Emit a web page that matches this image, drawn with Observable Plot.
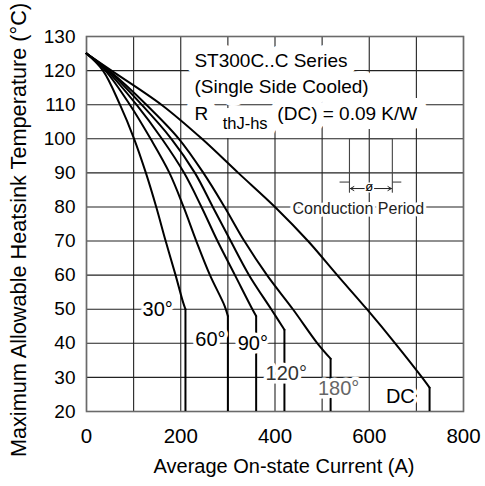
<!DOCTYPE html>
<html><head><meta charset="utf-8">
<script src="https://cdn.jsdelivr.net/npm/d3@7"></script>
<script src="https://cdn.jsdelivr.net/npm/@observablehq/plot@0.6"></script>
<style>body{margin:0;background:#fff;}</style>
</head><body><div id="chart"></div>
<script>
// ---- data ----
const xDomain = [0, 800];
const yDomain = [20, 130];
const xGrid = [0, 100, 200, 300, 400, 500, 600, 700, 800];
const xTicks = [0, 200, 400, 600, 800];
const yTicks = [20, 30, 40, 50, 60, 70, 80, 90, 100, 110, 120, 130];

const seriesNames = ["30°", "60°", "90°", "120°", "180°", "DC"];
const curve30  = [[0,125],[35,120],[71,110],[101,100],[126,90],[148,80],[168,70],[189,60],[205,52],[210,50]];
const curve60  = [[0,125],[40,120],[92,110],[136,100],[176,90],[206,80],[233,70],[262,60],[293,51],[300,48]];
const curve90  = [[0,125],[43,120],[106,110],[160,100],[207,90],[244,80],[278,70],[315,60],[352,50],[360,48]];
const curve120 = [[0,125],[46,120],[117,110],[180,100],[230,90],[268,80],[306,70],[345,60],[392,50],[420,44]];
const curve180 = [[0,125],[48,120],[127,110],[196,100],[248,90],[293,80],[335,70],[383,60],[438,50],[490,40],[518,35.5]];
const curveDC  = [[0,125],[53,120],[159,110],[245,100],[322,90],[400,80],[470,70],[532,60],[595,50],[655,40],[712,30],[728,27]];
const curves = [curve30, curve60, curve90, curve120, curve180, curveDC];

// curve labels (text, x, y, colour)
const labelText = ["30°", "60°", "90°", "120°", "180°", "DC"];
const labelX = [151, 263, 353, 424, 535, 666];
const labelY = [50, 41.2, 40, 31.2, 26.8, 24.3];
const labelColor = ["#000", "#000", "#000", "#333", "#666", "#000"];

// title block
const titleText = ["ST300C..C Series", "(Single Side Cooled)", "R", "(DC) = 0.09 K/W"];
const titleX = [229, 229, 229, 405];
const titleY = [122.7, 115.3, 107.4, 107.4];
const subText = ["thJ-hs"];
const subX = [289];
const subY = [104.3];

// conduction period sketch
const pulseX = [558, 558, 649, 649];
const pulseY = [84.3, 100, 100, 84.3];
const baseSegX1 = [537, 649];
const baseSegX2 = [558, 668];
const baseSegY = [87.3, 87.3];
const arrowX1 = [590, 611];
const arrowX2 = [560, 647];
const arrowY = [85.4, 85.4];
const phiLabel = ["ø"];
const phiX = [600];
const phiY = [86];
const periodLabel = ["Conduction Period"];
const periodX = [437];
const periodY = [79.3];

const xLabel = "Average On-state Current (A)";
const yLabel = "Maximum Allowable Heatsink Temperature (°C)";

// ---- build tables ----
const lineData = curves.flatMap((c, i) => c.map(([x, y]) => ({x, y, s: seriesNames[i]})));
const endData = curves.map((c, i) => ({x: c[c.length - 1][0], y: c[c.length - 1][1], s: seriesNames[i]}));
const labels = labelText.map((t, i) => ({t, x: labelX[i], y: labelY[i], c: labelColor[i]}));
const titles = titleText.map((t, i) => ({t, x: titleX[i], y: titleY[i]}));
const subs = subText.map((t, i) => ({t, x: subX[i], y: subY[i]}));
const pulse = pulseX.map((x, i) => ({x, y: pulseY[i]}));
const baseSegs = baseSegX1.map((x1, i) => ({x1, x2: baseSegX2[i], y: baseSegY[i]}));
const arrows = arrowX1.map((x1, i) => ({x1, x2: arrowX2[i], y: arrowY[i]}));

const FONT = "'Liberation Sans', Arial, Helvetica, sans-serif";
const halo = {stroke: "white", paintOrder: "stroke", strokeLinejoin: "round", fill: "black"};

const chart = Plot.plot({
  width: 485,
  height: 486,
  marginLeft: 86,
  marginRight: 22,
  marginTop: 36,
  marginBottom: 75,
  style: {fontFamily: FONT, background: "#fff", color: "#000", overflow: "visible"},
  x: {domain: xDomain},
  y: {domain: yDomain},
  marks: [
    Plot.gridX(xGrid, {stroke: "#222", strokeOpacity: 1, strokeWidth: 1.1}),
    Plot.gridY(yTicks, {stroke: "#222", strokeOpacity: 1, strokeWidth: 1.1}),
    Plot.frame({stroke: "#6a6a6a", strokeWidth: 1.6}),
    Plot.axisX(xTicks, {tickSize: 0, tickPadding: 17, fontSize: 20.5, label: null}),
    Plot.axisY(yTicks, {tickSize: 0, tickPadding: 11, fontSize: 19, label: null}),
    // title block with white backing
    Plot.text(titles, {x: "x", y: "y", text: "t", textAnchor: "start", fontSize: 19, ...halo, strokeWidth: 18}),
    Plot.text(subs, {x: "x", y: "y", text: "t", textAnchor: "start", fontSize: 16.5, ...halo, strokeWidth: 18}),
    // conduction period
    Plot.text(periodLabel, {x: periodX, y: periodY, text: d => d, textAnchor: "start", fontSize: 16, fill: "#222", stroke: "white", strokeWidth: 6, paintOrder: "stroke", strokeLinejoin: "round"}),
    Plot.line(pulse, {x: "x", y: "y", stroke: "#444", strokeWidth: 1.1}),
    Plot.link(baseSegs, {x1: "x1", x2: "x2", y1: "y", y2: "y", stroke: "#444", strokeWidth: 1.1}),
    Plot.arrow(arrows, {x1: "x1", x2: "x2", y1: "y", y2: "y", stroke: "#222", strokeWidth: 1, headLength: 6}),
    Plot.text(phiLabel, {x: phiX, y: phiY, text: d => d, fontSize: 13, ...halo, strokeWidth: 3}),
    // curves
    Plot.line(lineData, {x: "x", y: "y", z: "s", curve: "catmull-rom", stroke: "#000", strokeWidth: 2}),
    Plot.ruleX(endData, {x: "x", y1: yDomain[0], y2: "y", stroke: "#000", strokeWidth: 2}),
    // curve labels (white backing over grid and drop lines)
    Plot.text(labels, {x: "x", y: "y", text: "t", fontSize: 20, ...halo, fill: "c", strokeWidth: 7}),
    // axis titles
    Plot.text([xLabel], {frameAnchor: "bottom", dx: 9, dy: 61, fontSize: 20, text: d => d, wordSpacing: "-3px", letterSpacing: "1.2px"}),
    Plot.text([yLabel], {frameAnchor: "left", textAnchor: "middle", rotate: -90, dx: -67, dy: 6, fontSize: 21.7, text: d => d, wordSpacing: "-4px"})
  ]
});
document.getElementById("chart").appendChild(chart);
</script>
</body></html>
